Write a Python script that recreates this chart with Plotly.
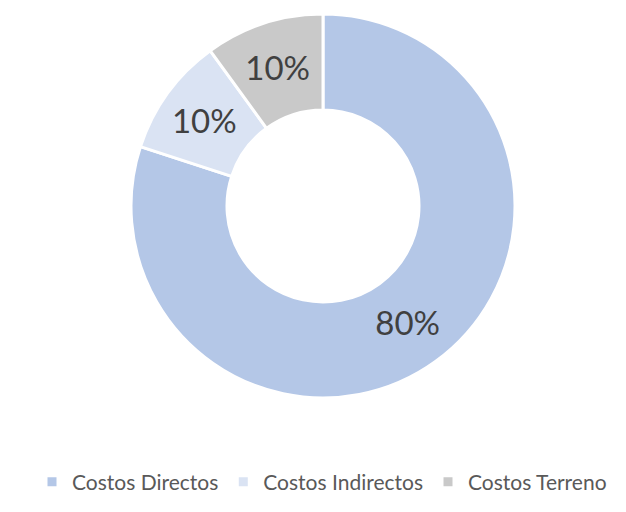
import plotly.graph_objects as go

categories = ["Costos Directos", "Costos Indirectos", "Costos Terreno"]
values = [80, 10, 10]
colors = ["#B4C7E7", "#DAE3F3", "#C9C9C9"]

W, H = 626, 512
cx, cy, R = 315, 198, 192  # figure coords (page has 8px body margin)

fig = go.Figure(go.Pie(
    labels=categories,
    values=values,
    hole=0.5,
    sort=False,
    direction="clockwise",
    rotation=0,
    marker=dict(colors=colors, line=dict(color="white", width=3)),
    textinfo="percent",
    texttemplate="%{percent:.0%}",
    textposition="inside",
    insidetextorientation="horizontal",
    textfont=dict(family="Lato", size=33, color="#404040"),
    domain=dict(x=[(cx - R) / W, (cx + R) / W], y=[(H - cy - R) / H, (H - cy + R) / H]),
    hoverinfo="label+percent",
))

fig.update_layout(
    width=W, height=H,
    margin=dict(l=0, r=0, t=0, b=0),
    paper_bgcolor="white",
    plot_bgcolor="white",
    showlegend=True,
    legend=dict(
        orientation="h",
        x=(322 - 8) / W, xanchor="center",
        y=(H - 474) / H, yanchor="middle",
        font=dict(family="Lato", size=21, color="#595959"),
        itemwidth=30,
    ),
)

fig.write_html("out.html")
